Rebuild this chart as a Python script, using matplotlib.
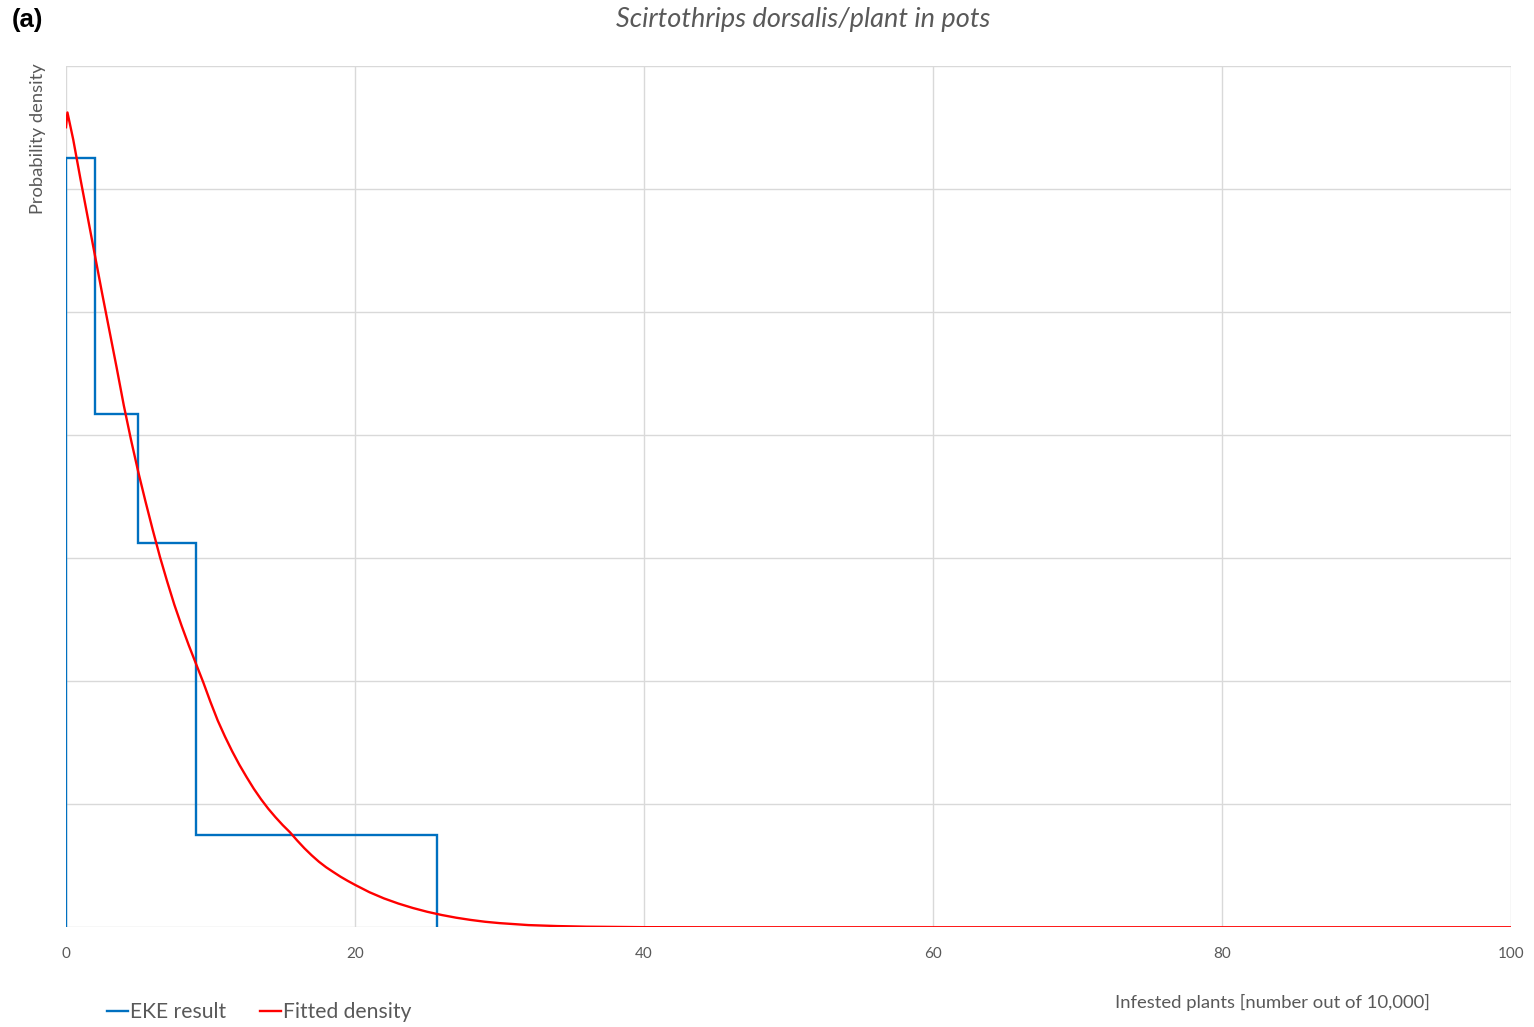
import matplotlib
matplotlib.use("Agg")
import matplotlib.pyplot as plt
from matplotlib.lines import Line2D

# EKE result (histogram step)
eke_edges = [0, 2.0, 5.0, 9.0, 25.65]
eke_heights = [6.25, 4.17, 3.12, 0.75]

# Fitted density
fit_x = [0.0, 0.1, 0.5, 1.0, 1.5, 2.0, 2.5, 3.0, 3.5, 4.0, 4.5, 5.0, 5.5, 6.0,
         6.5, 7.0, 7.5, 8.0, 8.5, 9.0, 9.5, 10.0, 10.5, 11.0, 11.5, 12.0, 12.5,
         13.0, 13.5, 14.0, 14.5, 15.0, 15.5, 16.0, 16.5, 17.0, 17.5, 18.0, 18.5,
         19.0, 19.5, 20.0, 21.0, 22.0, 23.0, 24.0, 25.0, 26.0, 27.0, 28.0, 29.0,
         30.0, 32.0, 34.0, 36.0, 38.0, 40.0, 45.0, 100.0]
fit_y = [6.50, 6.62, 6.40, 6.08, 5.77, 5.46, 5.15, 4.85, 4.55, 4.24, 3.96, 3.70,
         3.46, 3.23, 3.01, 2.81, 2.62, 2.45, 2.29, 2.14, 1.99, 1.83, 1.68, 1.55,
         1.43, 1.32, 1.22, 1.125, 1.04, 0.963, 0.894, 0.83, 0.772, 0.705, 0.642,
         0.585, 0.533, 0.488, 0.449, 0.411, 0.377, 0.345, 0.285, 0.235, 0.193,
         0.157, 0.126, 0.100, 0.078, 0.060, 0.045, 0.034, 0.018, 0.010, 0.005,
         0.003, 0.001, 0.0, 0.0]

x_ticks = [0, 20, 40, 60, 80, 100]
title = "Scirtothrips dorsalis/plant in pots"
panel = "(a)"
ylab = "Probability density"
xlab = "Infested plants [number out of 10,000]"
legend_labels = ["EKE result", "Fitted density"]

plt.rcParams['font.family'] = ['Lato', 'DejaVu Sans']
grey = "#595959"
blue = "#0070c0"
red = "#ff0000"

fig = plt.figure(figsize=(15.34, 10.27), dpi=100)
ax = fig.add_axes([66/1534, 1-927.3/1027, (1511-66)/1534, (927.3-65.7)/1027])

ax.set_xlim(0, 100)
ax.set_ylim(0, 7)
ax.set_xticks(x_ticks)
ax.set_yticks(range(0, 8))
ax.set_yticklabels([])
ax.tick_params(axis='both', length=0)
ax.tick_params(axis='x', labelsize=11, labelcolor=grey, pad=14)
ax.grid(True, color="#d9d9d9", linewidth=1.0)
ax.set_axisbelow(True)
for s in ax.spines.values():
    s.set_visible(False)

ax.stairs(eke_heights, eke_edges, baseline=0, color=blue, linewidth=1.7,
          label=legend_labels[0], zorder=3)
ax.plot(fit_x, fit_y, color=red, linewidth=1.7, label=legend_labels[1], zorder=4,
        solid_joinstyle='round')

fig.text(803/1534, 1-20/1027, title, ha='center', va='center', style='italic',
         fontsize=19.5, color=grey)
fig.text(12/1534, 1-20/1027, panel, ha='left', va='center', fontweight='bold',
         fontsize=18.5, color='black', family=['Liberation Sans', 'DejaVu Sans'])
fig.text(38/1534, 1-63/1027, ylab, ha='center', va='top', rotation=90,
         fontsize=13.2, color=grey)
fig.text(1272/1534, 1-1002/1027, xlab, ha='center', va='center',
         fontsize=13.3, color=grey)

handles = [Line2D([], [], color=blue, linewidth=1.7),
           Line2D([], [], color=red, linewidth=1.7)]
fig.legend(handles, legend_labels, loc='center left',
           bbox_to_anchor=(107/1534, 1-1012/1027), ncol=2, frameon=False,
           fontsize=15.2, labelcolor=grey, handlelength=1.0, handletextpad=0.1,
           columnspacing=1.6, borderaxespad=0, borderpad=0)

fig.savefig("out.png", dpi=100)
